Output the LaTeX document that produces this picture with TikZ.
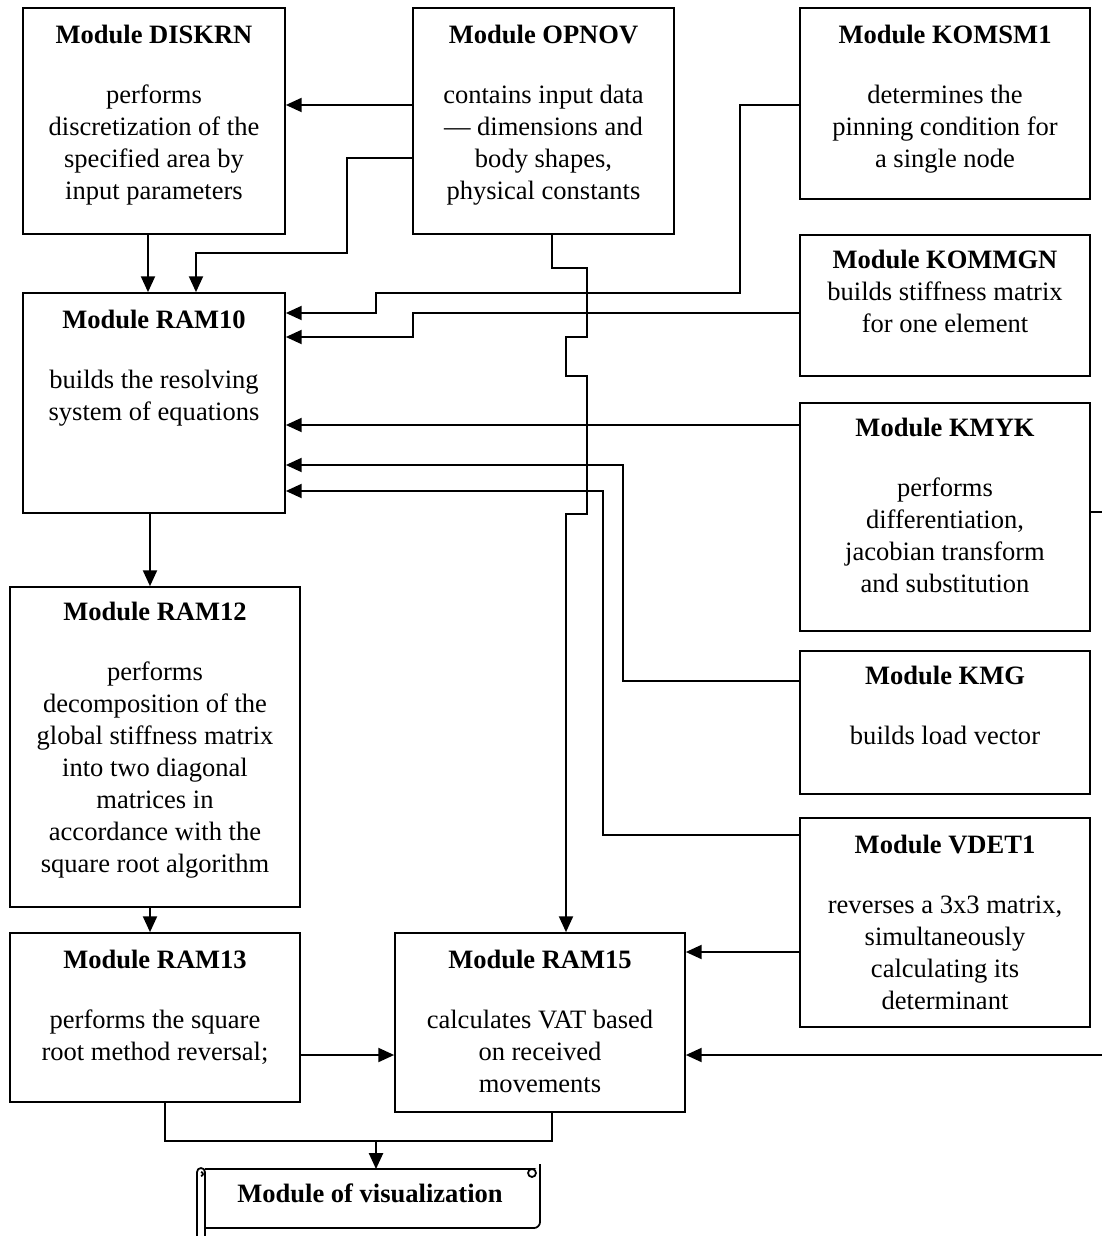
\documentclass[tikz,border=0pt]{standalone}
\usepackage{fontspec}
\setmainfont{Liberation Serif}
\usetikzlibrary{arrows.meta,positioning,calc}

\begin{document}
\begin{tikzpicture}[x=0.02cm, y=-0.02cm,
    modbox/.style={draw, line width=1pt, inner sep=0pt},
    modtext/.style={align=center, inner sep=0pt,
      font=\fontsize{15.1}{18.2}\selectfont},
    link/.style={line width=1pt},
    arr/.style={line width=1pt, -{Triangle[length=9pt,width=8pt]}},
  ]
    \useasboundingbox (0,0) rectangle (1101,1236);

    % boxes
    \node[modbox, minimum width=5.24cm, minimum height=4.52cm] (diskrn) at (154,121) {};
    \node[modbox, minimum width=5.22cm, minimum height=4.52cm] (opnov) at (543.5,121) {};
    \node[modbox, minimum width=5.8cm, minimum height=3.82cm] (komsm1) at (945,103.5) {};
    \node[modbox, minimum width=5.8cm, minimum height=2.82cm] (kommgn) at (945,305.5) {};
    \node[modbox, minimum width=5.24cm, minimum height=4.4cm] (ram10) at (154,403) {};
    \node[modbox, minimum width=5.8cm, minimum height=4.56cm] (kmyk) at (945,517) {};
    \node[modbox, minimum width=5.8cm, minimum height=2.86cm] (kmg) at (945,722.5) {};
    \node[modbox, minimum width=5.8cm, minimum height=4.18cm] (vdet1) at (945,922.5) {};
    \node[modbox, minimum width=5.8cm, minimum height=6.4cm] (ram12) at (155,747) {};
    \node[modbox, minimum width=5.8cm, minimum height=3.38cm] (ram13) at (155,1017.5) {};
    \node[modbox, minimum width=5.8cm, minimum height=3.58cm] (ram15) at (540,1022.5) {};
    \node[minimum width=6.7cm, minimum height=1.18cm, inner sep=0pt] (vis) at (372.5,1198.5) {};

    % texts
    \node[modtext, below=10pt of diskrn.north] (diskrnT) {\textbf{Module DISKRN}\\[16pt]performs\\discretization of the\\specified area by\\input parameters};
    \node[modtext, below=10pt of opnov.north] (opnovT) {\textbf{Module OPNOV}\\[16pt]contains input data\\--- dimensions and\\body shapes,\\physical constants};
    \node[modtext, below=10pt of komsm1.north] (komsm1T) {\textbf{Module KOMSM1}\\[16pt]determines the\\pinning condition for\\a single node};
    \node[modtext, below=9pt of kommgn.north] (kommgnT) {\textbf{Module KOMMGN}\\builds stiffness matrix\\for one element};
    \node[modtext, below=10pt of ram10.north] (ram10T) {\textbf{Module RAM10}\\[16pt]builds the resolving\\system of equations};
    \node[modtext, below=9pt of kmyk.north] (kmykT) {\textbf{Module KMYK}\\[16pt]performs\\differentiation,\\jacobian transform\\and substitution};
    \node[modtext, below=9pt of kmg.north] (kmgT) {\textbf{Module KMG}\\[16pt]builds load vector};
    \node[modtext, below=10pt of vdet1.north] (vdet1T) {\textbf{Module VDET1}\\[16pt]reverses a 3x3 matrix,\\simultaneously\\calculating its\\determinant};
    \node[modtext, below=9pt of ram12.north] (ram12T) {\textbf{Module RAM12}\\[16pt]performs\\decomposition of the\\global stiffness matrix\\into two diagonal\\matrices in\\accordance with the\\square root algorithm};
    \node[modtext, below=10pt of ram13.north] (ram13T) {\textbf{Module RAM13}\\[16pt]performs the square\\root method reversal;};
    \node[modtext, below=10pt of ram15.north] (ram15T) {\textbf{Module RAM15}\\[16pt]calculates VAT based\\on received\\movements};
    \node[modtext] (visT) at (370,1193) {\textbf{Module of visualization}};

    % scroll outline
    \draw[link] (205,1169) -- (532,1169) arc[start angle=270, end angle=-90, radius=4]
      (540,1164) -- (540,1222) to[out=-90, in=0] (534,1228) -- (205,1228);
    \draw[link] (205,1240) -- (205,1172) arc[start angle=0, end angle=-180, radius=4] -- (197,1240);
    \draw[link] (201,1176) arc[start angle=90, end angle=-90, radius=2];

    % connectors to RAM10
    \draw[arr] (opnov.west |- 0,105) -- (diskrn.east |- 0,105);
    \draw[arr] (opnov.west |- 0,158) -| (347,253) -| (196,0 |- ram10.north);
    \draw[arr] (148,0 |- diskrn.south) -- (148,0 |- ram10.north);
    \draw[arr] (komsm1.west |- 0,105) -| (740,293) -| (376,313) -- (ram10.east |- 0,313);
    \draw[arr] (kommgn.west |- 0,313) -| (413,337) -- (ram10.east |- 0,337);
    \draw[arr] (kmyk.west |- 0,425) -- (ram10.east |- 0,425);
    \draw[arr] (kmg.west |- 0,681) -| (623,465) -- (ram10.east |- 0,465);
    \draw[arr] (vdet1.west |- 0,835) -| (603,491) -- (ram10.east |- 0,491);

    % connectors to RAM15
    \draw[arr] (552,0 |- opnov.south) |- (587,268) |- (566,337) |- (587,376) |- (566,514)
      -- (566,0 |- ram15.north);
    \draw[arr] (kmyk.east |- 0,512) -| (1120,1055) -- (ram15.east |- 0,1055);
    \draw[arr] (vdet1.west |- 0,952) -- (ram15.east |- 0,952);
    \draw[arr] (ram13.east |- 0,1055) -- (ram15.west |- 0,1055);

    % left column
    \draw[arr] (150,0 |- ram10.south) -- (150,0 |- ram12.north);
    \draw[arr] (150,0 |- ram12.south) -- (150,0 |- ram13.north);

    % to visualization
    \coordinate (join) at (376,1141);
    \draw[link] (165,0 |- ram13.south) |- (552,1141) -- (552,0 |- ram15.south);
    \draw[arr] (join) -- (376,1169);
\end{tikzpicture}
\end{document}
